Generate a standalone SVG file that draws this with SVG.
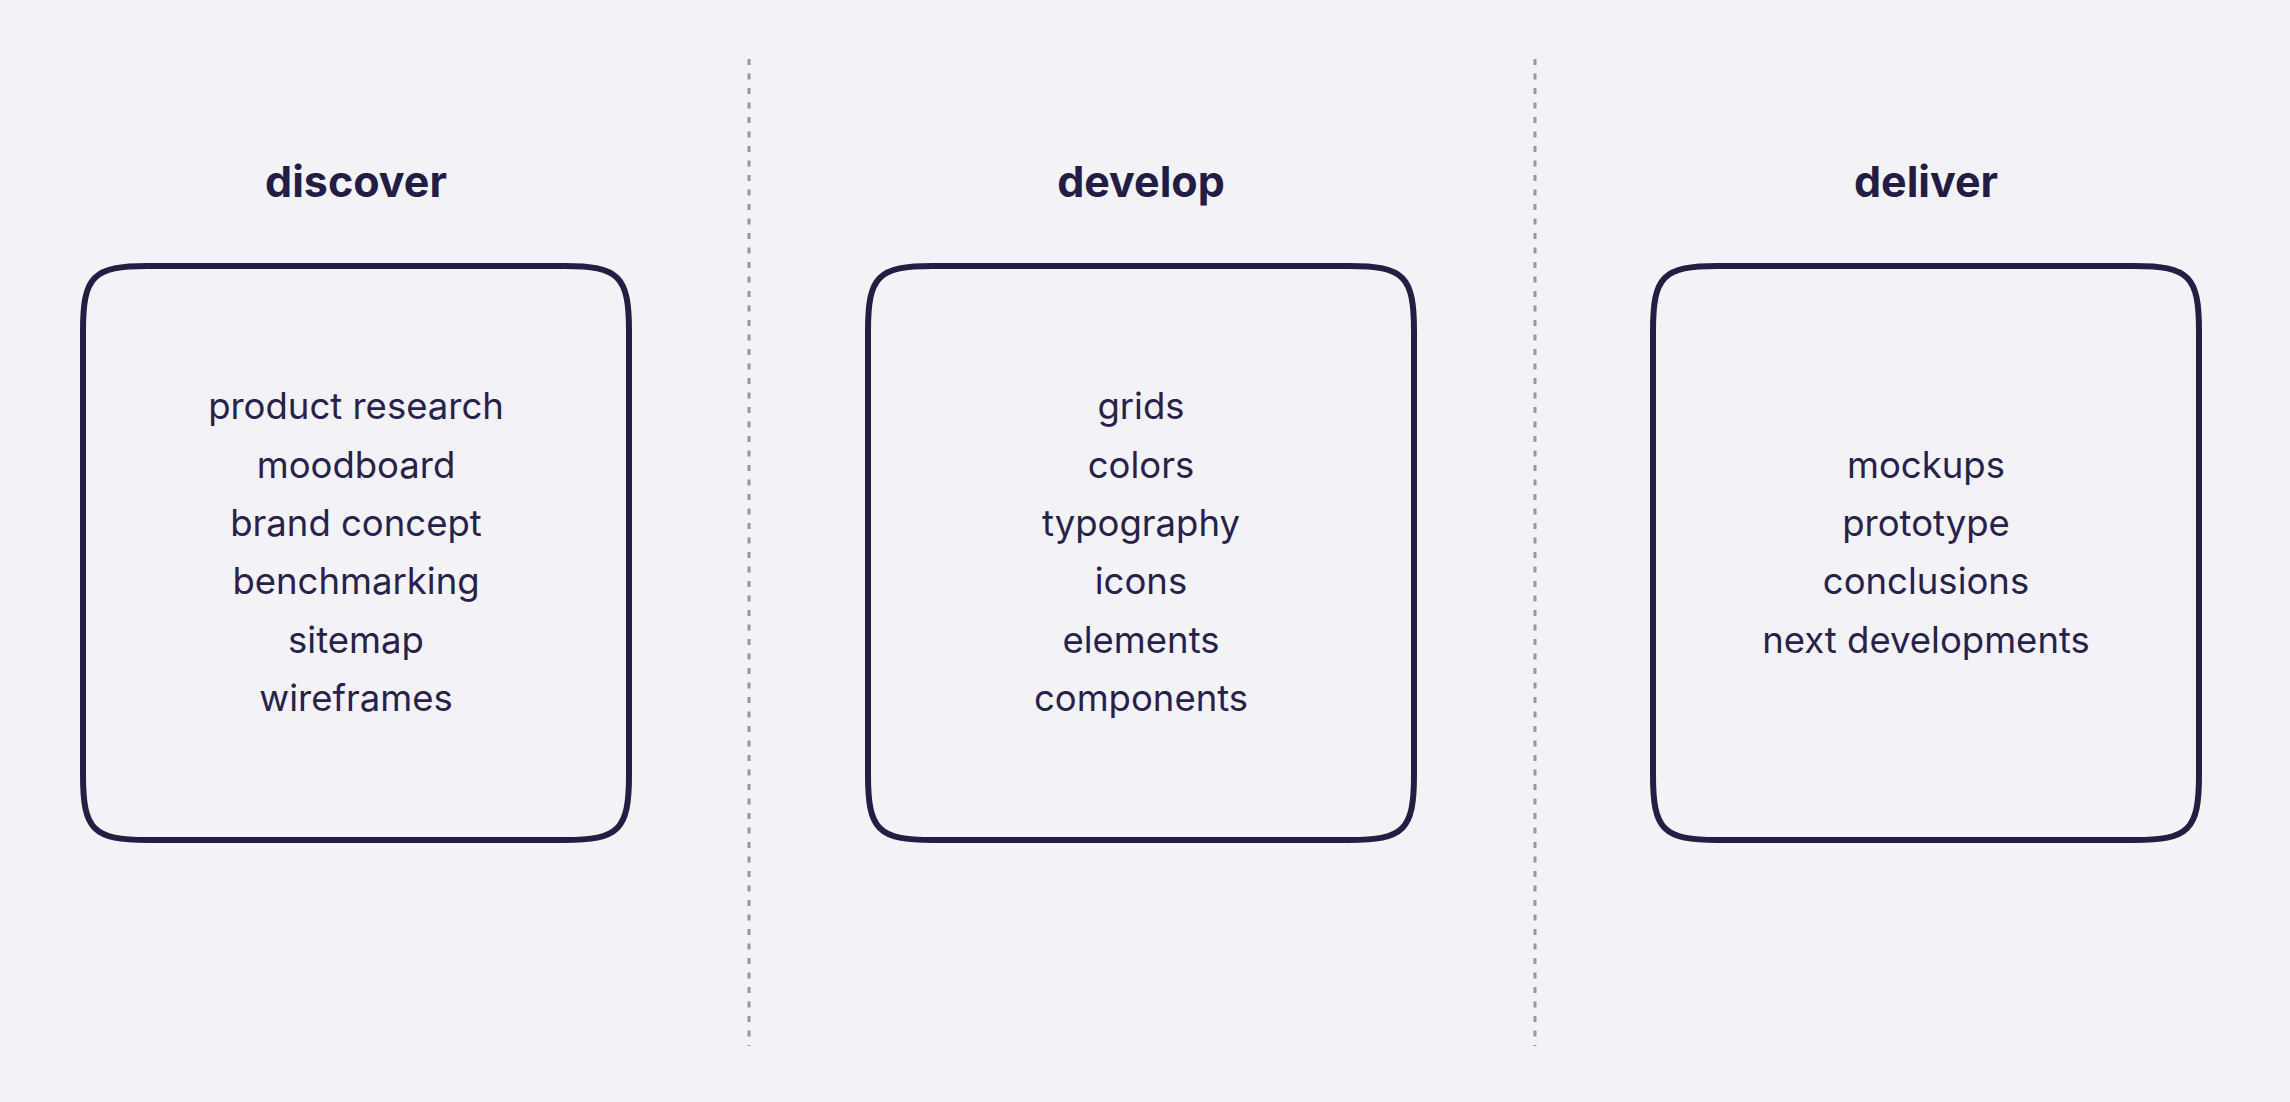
<svg xmlns="http://www.w3.org/2000/svg" width="2290" height="1102" viewBox="0 0 2290 1102">
<style>
.bg{fill:#f3f2f7}
.box{fill:none;stroke:#241e44;stroke-width:6}
.div{stroke:#8e99aa;stroke-width:3;stroke-dasharray:6 8.5}
.title{font-family:Inter,"Liberation Sans",sans-serif;font-weight:700;font-size:43px;fill:#231d45;text-anchor:middle}
.item{font-family:Inter,"Liberation Sans",sans-serif;font-weight:400;font-size:36.5px;fill:#28224b;text-anchor:middle}
</style>
<rect class="bg" x="0" y="0" width="2290" height="1102"/>
<g id="connectors">
<line class="div" x1="749" y1="59" x2="749" y2="1046"/>
<line class="div" x1="1535" y1="59" x2="1535" y2="1046"/>
</g>
<g id="discover">
<text class="title" x="356" y="197">discover</text>
<path class="box" d="M148,266 H564 C619,266 629,276 629,331 V775 C629,830 619,840 564,840 H148 C93,840 83,830 83,775 V331 C83,276 93,266 148,266 Z"/>
<text class="item" x="356" y="419">product research</text>
<text class="item" x="356" y="477.5">moodboard</text>
<text class="item" x="356" y="536">brand concept</text>
<text class="item" x="356" y="594">benchmarking</text>
<text class="item" x="356" y="652.5">sitemap</text>
<text class="item" x="356" y="711">wireframes</text>
</g>
<g id="develop">
<text class="title" x="1141" y="197">develop</text>
<path class="box" d="M933,266 H1349 C1404,266 1414,276 1414,331 V775 C1414,830 1404,840 1349,840 H933 C878,840 868,830 868,775 V331 C868,276 878,266 933,266 Z"/>
<text class="item" x="1141" y="419">grids</text>
<text class="item" x="1141" y="477.5">colors</text>
<text class="item" x="1141" y="536">typography</text>
<text class="item" x="1141" y="594">icons</text>
<text class="item" x="1141" y="652.5">elements</text>
<text class="item" x="1141" y="711">components</text>
</g>
<g id="deliver">
<text class="title" x="1926" y="197">deliver</text>
<path class="box" d="M1718,266 H2134 C2189,266 2199,276 2199,331 V775 C2199,830 2189,840 2134,840 H1718 C1663,840 1653,830 1653,775 V331 C1653,276 1663,266 1718,266 Z"/>
<text class="item" x="1926" y="477.5">mockups</text>
<text class="item" x="1926" y="536">prototype</text>
<text class="item" x="1926" y="594">conclusions</text>
<text class="item" x="1926" y="652.5">next developments</text>
</g>
</svg>
